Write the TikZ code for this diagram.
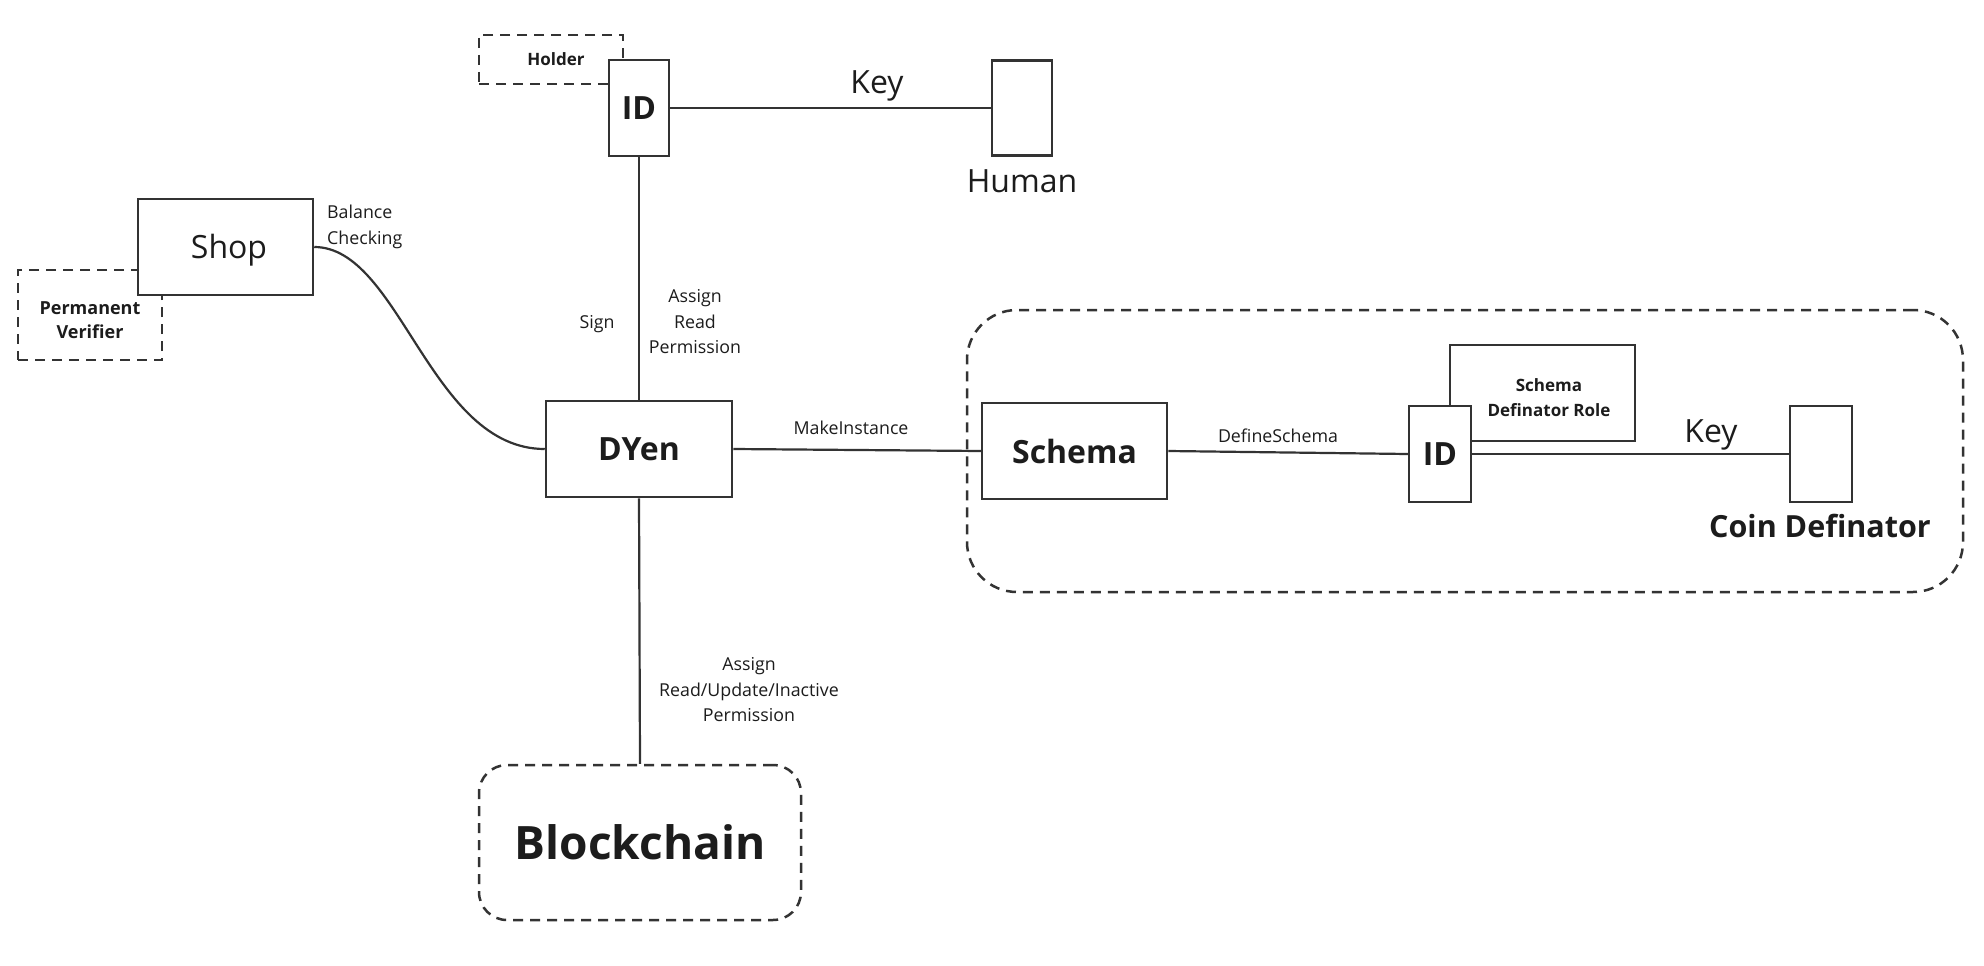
\documentclass[tikz,border=0pt]{standalone}
\usepackage{fontspec}
\setmainfont{Open Sans}
\definecolor{linec}{HTML}{333333}
\definecolor{txt}{HTML}{1C1C1C}
\begin{document}
\begin{tikzpicture}[x=1pt,y=-1pt,
  box/.style={draw=linec, fill=white, line width=2.5pt, inner sep=0pt, text=txt},
  dbox/.style={box, dash pattern=on 10pt off 7pt},
  conn/.style={draw=linec, line width=2.2pt},
  lbl/.style={text=txt, font=\fontsize{17.8}{25.5}\selectfont, align=center, inner sep=0pt},
  big/.style={font=\fontsize{32}{36}\selectfont},
  bigb/.style={font=\bfseries\fontsize{32}{36}\selectfont},
  smallb/.style={font=\bfseries\fontsize{17}{25}\selectfont, align=center}]
\useasboundingbox (0,0) rectangle (1984,966);
\fill[white] (0,0) rectangle (1984,966);

% group container
\node[dbox, fill=none, rounded corners=50pt, minimum width=996pt, minimum height=282pt] (group) at (1465,451) {};

% dashed boxes behind
\node[dbox, minimum width=144pt, minimum height=49pt, smallb] (holder) at (551,59.5) {\hspace{10pt}Holder};
\node[dbox, minimum width=144pt, minimum height=90pt] (pv) at (90,315) {};
\node[lbl, smallb, font=\bfseries\fontsize{18}{24}\selectfont] (pvtext) at (90,320) {Permanent\\Verifier};

% main boxes
\node[box, minimum width=60pt, minimum height=96pt, bigb] (id1) at (639,108) {ID};
\node[box, minimum width=60pt, minimum height=95pt] (human) at (1022,108) {};
\node[lbl, big] (humanlbl) at (1022,181) {Human};

\node[box, minimum width=175pt, minimum height=96pt] (shop) at (225.5,247) {};
\node[lbl, big] (shoptext) at (229,250) {Shop};
\node[box, minimum width=186pt, minimum height=96pt, bigb] (dyen) at (639,449) {DYen};
\node[box, minimum width=185pt, minimum height=96pt, bigb] (schema) at (1074.5,451) {Schema};
\node[box, minimum width=185pt, minimum height=96pt] (sdr) at (1542.5,393) {};
\node[lbl, smallb] (sdrtext) at (1549,398) {Schema\\Definator Role};
\node[box, minimum width=62pt, minimum height=96pt, bigb] (id2) at (1440,454) {ID};
\node[box, minimum width=62pt, minimum height=96pt] (coin) at (1821,454) {};
\node[lbl, font=\bfseries\fontsize{30.5}{34}\selectfont] (coinlbl) at (1820,526) {Coin Definator};

\node[dbox, rounded corners=28pt, minimum width=322pt, minimum height=155pt, font=\bfseries\fontsize{46}{50}\selectfont] (chain) at (640,842.5) {Blockchain};

% connectors
\draw[conn] (id1.east) -- node[lbl, big, pos=0.645, above=6pt] (key1) {Key} (human.west);
\draw[conn] (id1.south) -- (dyen.north);
\node[lbl] (sign) at (597,324) {Sign};
\node[lbl] (arp) at (695,322) {Assign\\Read\\Permission};
\draw[conn] (shop.east) .. controls (400,247) and (430,449) .. (dyen.west);
\node[lbl, anchor=west, align=left] (bal) at (327,227) {Balance\\Checking};
\draw[conn] (dyen.east) -- (schema.west);
\node[lbl] (mk) at (851,428) {MakeInstance};
\draw[conn] (schema.east) -- (id2.west);
\node[lbl] (ds) at (1278,436) {DefineSchema};
\draw[conn] (id2.east) -- (coin.west);
\node[lbl, big] (key2) at (1711,435) {Key};
\draw[conn] (dyen.south) -- (chain.north);
\node[lbl] (arui) at (749,690) {Assign\\Read/Update/Inactive\\Permission};

% redraw ID box on top of overlapping box
\node[box, minimum width=62pt, minimum height=96pt, bigb] at (1440,454) {ID};
\end{tikzpicture}
\end{document}
